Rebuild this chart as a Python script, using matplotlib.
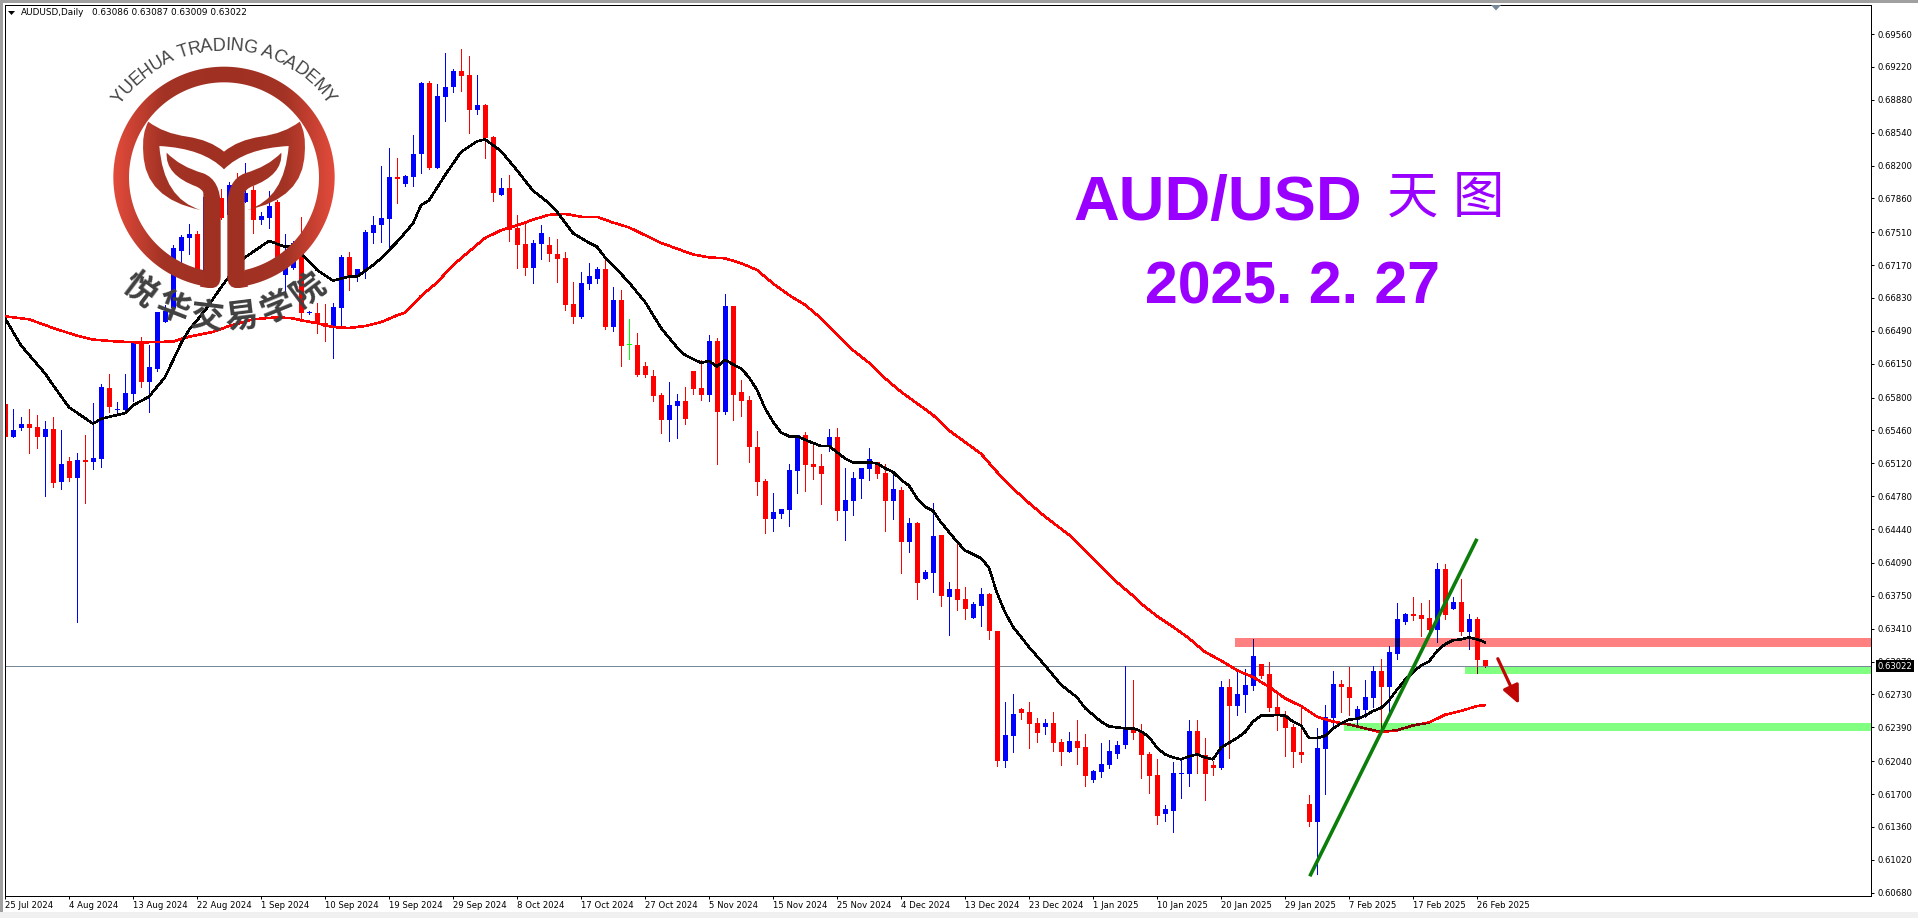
import numpy as np
import matplotlib
matplotlib.use("Agg")
import matplotlib.pyplot as plt
from matplotlib.path import Path
from matplotlib.patches import Rectangle, Polygon
from matplotlib.colors import LinearSegmentedColormap
from matplotlib.font_manager import FontProperties
from matplotlib.textpath import TextToPath

# daily candles, prices in 1/10000 (6573 = 0.6573)
opens = [
    6573, 6539, 6549, 6553, 6550, 6539, 6548, 6493, 6514, 6497,
    6515, 6513, 6517, 6590, 6567, 6567, 6584, 6637, 6596, 6610,
    6658, 6673, 6732, 6745, 6749, 6710, 6787, 6786, 6769, 6800,
    6782, 6795, 6764, 6766, 6782, 6707, 6714, 6725, 6667, 6668,
    6657, 6654, 6673, 6725, 6705, 6712, 6750, 6758, 6765, 6808,
    6801, 6808, 6832, 6905, 6817, 6891, 6901, 6918, 6914, 6877,
    6883, 6849, 6790, 6797, 6755, 6739, 6714, 6739, 6738, 6729,
    6724, 6677, 6663, 6697, 6703, 6713, 6653, 6681, 6634, 6634,
    6613, 6602, 6583, 6557, 6571, 6576, 6608, 6590, 6583, 6639,
    6565, 6675, 6586, 6578, 6529, 6494, 6454, 6460, 6464, 6504,
    6541, 6511, 6509, 6530, 6539, 6463, 6473, 6496, 6506, 6513,
    6502, 6473, 6484, 6431, 6450, 6392, 6399, 6438, 6374, 6382,
    6372, 6352, 6365, 6377, 6339, 6204, 6230, 6258, 6255, 6243,
    6239, 6243, 6224, 6213, 6225, 6219, 6185, 6193, 6200, 6211,
    6221, 6237, 6235, 6211, 6190, 6149, 6153, 6191, 6191, 6235,
    6210, 6200, 6197, 6281, 6261, 6272, 6282, 6304, 6294, 6260,
    6252, 6239, 6214, 6160, 6141, 6217, 6249, 6284, 6281, 6247,
    6257, 6269, 6297, 6281, 6315, 6348, 6356, 6355, 6352, 6340,
    6403, 6361, 6369, 6338, 6351, 6308.6,
]
highs = [
    6573, 6568, 6560, 6568, 6562, 6556, 6560, 6547, 6519, 6523,
    6541, 6574, 6594, 6604, 6575, 6604, 6637, 6643, 6634, 6669,
    6676, 6738, 6748, 6760, 6752, 6787, 6795, 6796, 6803, 6812,
    6823, 6799, 6772, 6794, 6784, 6749, 6742, 6767, 6670, 6678,
    6677, 6678, 6727, 6731, 6713, 6753, 6768, 6819, 6838, 6828,
    6810, 6852, 6906, 6907, 6904, 6936, 6920, 6941, 6933, 6914,
    6884, 6851, 6807, 6810, 6769, 6760, 6743, 6758, 6746, 6744,
    6731, 6700, 6710, 6719, 6715, 6724, 6694, 6691, 6661, 6647,
    6617, 6609, 6585, 6596, 6584, 6591, 6608, 6619, 6645, 6642,
    6687, 6675, 6598, 6582, 6545, 6496, 6481, 6465, 6511, 6541,
    6544, 6533, 6522, 6548, 6549, 6507, 6503, 6507, 6528, 6513,
    6511, 6504, 6488, 6455, 6451, 6402, 6471, 6438, 6389, 6430,
    6384, 6369, 6383, 6378, 6339, 6265, 6274, 6259, 6265, 6249,
    6248, 6255, 6227, 6234, 6247, 6232, 6195, 6223, 6226, 6225,
    6302, 6288, 6242, 6213, 6206, 6159, 6203, 6206, 6247, 6247,
    6228, 6204, 6287, 6289, 6297, 6299, 6330, 6305, 6307, 6275,
    6256, 6242, 6262, 6169, 6238, 6262, 6297, 6288, 6301, 6261,
    6288, 6302, 6310, 6323, 6368, 6357, 6374, 6368, 6371, 6409,
    6408, 6374, 6392, 6356, 6353, 6308.7,
]
lows = [
    6512, 6539, 6547, 6523, 6528, 6478, 6488, 6486, 6494, 6348,
    6471, 6506, 6508, 6565, 6563, 6566, 6577, 6591, 6565, 6608,
    6658, 6670, 6717, 6729, 6709, 6709, 6758, 6765, 6766, 6766,
    6782, 6750, 6760, 6755, 6720, 6688, 6713, 6659, 6666, 6647,
    6639, 6621, 6655, 6691, 6701, 6704, 6740, 6741, 6736, 6781,
    6799, 6799, 6812, 6816, 6817, 6866, 6896, 6897, 6854, 6873,
    6828, 6783, 6790, 6742, 6714, 6707, 6699, 6723, 6721, 6700,
    6671, 6657, 6662, 6692, 6699, 6651, 6649, 6613, 6620, 6602,
    6601, 6576, 6543, 6535, 6538, 6553, 6584, 6578, 6577, 6511,
    6563, 6557, 6561, 6513, 6479, 6440, 6442, 6456, 6447, 6481,
    6483, 6496, 6470, 6525, 6453, 6433, 6459, 6476, 6495, 6497,
    6442, 6454, 6399, 6420, 6372, 6392, 6379, 6364, 6335, 6360,
    6351, 6352, 6344, 6330, 6199, 6198, 6214, 6248, 6218, 6224,
    6232, 6215, 6200, 6213, 6201, 6178, 6182, 6188, 6197, 6207,
    6218, 6227, 6187, 6171, 6139, 6142, 6131, 6166, 6178, 6192,
    6164, 6190, 6196, 6207, 6252, 6255, 6278, 6290, 6256, 6236,
    6209, 6198, 6203, 6137, 6087, 6170, 6239, 6255, 6252, 6241,
    6250, 6260, 6235, 6254, 6310, 6346, 6350, 6333, 6332, 6327,
    6351, 6361, 6335, 6320, 6295, 6300.9,
]
closes = [
    6539, 6546, 6553, 6549, 6539, 6548, 6492, 6511, 6497, 6515,
    6513, 6518, 6591, 6570, 6568, 6585, 6637, 6596, 6612, 6669,
    6670, 6735, 6746, 6749, 6711, 6787, 6761, 6766, 6800, 6769,
    6792, 6764, 6768, 6778, 6722, 6720, 6740, 6667, 6669, 6656,
    6653, 6674, 6725, 6706, 6713, 6751, 6759, 6766, 6808, 6806,
    6809, 6832, 6905, 6817, 6892, 6901, 6918, 6913, 6877, 6883,
    6848, 6792, 6797, 6753, 6738, 6714, 6740, 6750, 6728, 6723,
    6676, 6663, 6698, 6706, 6713, 6653, 6681, 6633, 6634, 6603,
    6603, 6582, 6557, 6572, 6576, 6558, 6589, 6583, 6639, 6565,
    6675, 6583, 6577, 6529, 6493, 6454, 6462, 6465, 6505, 6541,
    6510, 6508, 6501, 6539, 6463, 6474, 6497, 6507, 6516, 6501,
    6473, 6486, 6431, 6450, 6388, 6400, 6437, 6375, 6382, 6371,
    6361, 6367, 6377, 6339, 6204, 6231, 6253, 6254, 6242, 6233,
    6243, 6223, 6214, 6225, 6218, 6189, 6194, 6201, 6215, 6221,
    6237, 6233, 6210, 6189, 6147, 6155, 6192, 6192, 6235, 6210,
    6191, 6197, 6281, 6261, 6273, 6283, 6313, 6292, 6259, 6251,
    6238, 6213, 6210, 6141, 6218, 6250, 6284, 6281, 6269, 6258,
    6270, 6297, 6281, 6317, 6351, 6356, 6354, 6351, 6340, 6403,
    6355, 6369, 6338, 6351, 6309, 6302.2,
]

# moving averages, read at these candle numbers
black_idx = [
    0, 2, 5, 6, 8, 11, 12, 15, 16, 18, 20, 22, 23, 25, 27, 28, 30, 33, 35, 36, 37, 39, 41,
    43, 44, 46, 47, 49, 51, 52, 53, 55, 57, 59, 60, 62, 64, 66, 68, 69, 71, 73, 74, 75, 77,
    78, 80, 82, 84, 85, 87, 88, 89, 90, 92, 93, 94, 95, 96, 97, 98, 99, 101, 102, 103, 105,
    106, 108, 109, 110, 111, 112, 113, 114, 115, 116, 117, 119, 120, 122, 123, 124, 125,
    126, 128, 130, 132, 134, 135, 137, 138, 140, 141, 142, 143, 144, 145, 146, 147, 148,
    149, 150, 151, 152, 154, 155, 156, 157, 158, 159, 160, 161, 162, 163, 164, 165, 166,
    167, 168, 169, 170, 171, 172, 173, 174, 175, 176, 177, 178, 179, 180, 181, 182, 183,
    184, 185,
]
black_val = [
    6662, 6634, 6605, 6593, 6570, 6553, 6558, 6564, 6572, 6581, 6601, 6636, 6650, 6670, 6694,
    6705, 6725, 6742, 6736, 6736, 6729, 6712, 6701, 6705, 6705, 6717, 6724, 6741, 6760, 6779,
    6784, 6810, 6834, 6845, 6847, 6835, 6815, 6794, 6781, 6772, 6750, 6740, 6736, 6725, 6708,
    6699, 6679, 6652, 6632, 6624, 6616, 6618, 6612, 6619, 6610, 6601, 6588, 6569, 6555, 6544,
    6540, 6540, 6533, 6530, 6530, 6517, 6513, 6513, 6512, 6507, 6503, 6495, 6489, 6476, 6467,
    6463, 6451, 6431, 6422, 6414, 6404, 6378, 6358, 6343, 6322, 6303, 6283, 6270, 6259, 6245,
    6240, 6238, 6238, 6235, 6229, 6218, 6211, 6208, 6206, 6209, 6211, 6208, 6206, 6218, 6228,
    6234, 6245, 6251, 6251, 6252, 6251, 6245, 6241, 6228, 6228, 6230, 6238, 6243, 6247, 6248,
    6251, 6256, 6259, 6267, 6278, 6288, 6296, 6303, 6307, 6318, 6325, 6329, 6330, 6332, 6330,
    6327,
]
red_idx = [
    0, 3, 6, 9, 11, 14, 17, 21, 23, 26, 28, 31, 34, 36, 37, 39, 41, 43, 45, 47, 49, 50, 52, 54,
    56, 58, 60, 62, 64, 66, 68, 70, 72, 74, 76, 78, 80, 82, 84, 86, 88, 90, 92, 94, 96, 98,
    100, 102, 104, 106, 108, 110, 112, 114, 116, 118, 120, 122, 124, 126, 128, 130, 133, 136,
    139, 141, 142, 144, 146, 148, 150, 152, 154, 156, 158, 160, 162, 164, 166, 168, 170, 172,
    174, 176, 178, 180, 182, 184, 185,
]
red_val = [
    6664, 6661, 6652, 6644, 6640, 6638, 6637, 6638, 6643, 6648, 6654, 6661, 6663, 6662, 6660,
    6657, 6653, 6652, 6654, 6658, 6665, 6668, 6685, 6699, 6717, 6731, 6745, 6753, 6758, 6764,
    6769, 6770, 6767, 6767, 6761, 6756, 6748, 6740, 6734, 6728, 6725, 6724, 6719, 6712, 6698,
    6686, 6676, 6662, 6645, 6629, 6616, 6600, 6586, 6574, 6562, 6546, 6534, 6522, 6503, 6486,
    6471, 6457, 6438, 6414, 6389, 6375, 6367, 6354, 6343, 6331, 6317, 6308, 6298, 6291, 6281,
    6269, 6261, 6250, 6245, 6242, 6238, 6234, 6236, 6241, 6244, 6252, 6256, 6261, 6262,
]

price_ticks = [
    0.69560, 0.69220, 0.68880, 0.68540, 0.68200, 0.67860, 0.67510, 0.67170, 0.66830,
    0.66490, 0.66150, 0.65800, 0.65460, 0.65120, 0.64780, 0.64440, 0.64090, 0.63750,
    0.63410, 0.63070, 0.62730, 0.62390, 0.62040, 0.61700, 0.61360, 0.61020, 0.60680,
]
date_labels = [
    "25 Jul 2024", "4 Aug 2024", "13 Aug 2024", "22 Aug 2024", "1 Sep 2024", "10 Sep 2024",
    "19 Sep 2024", "29 Sep 2024", "8 Oct 2024", "17 Oct 2024", "27 Oct 2024", "5 Nov 2024",
    "15 Nov 2024", "25 Nov 2024", "4 Dec 2024", "13 Dec 2024", "23 Dec 2024", "1 Jan 2025",
    "10 Jan 2025", "20 Jan 2025", "29 Jan 2025", "7 Feb 2025", "17 Feb 2025", "26 Feb 2025",
]
last_price = 0.63022

# drawn levels: first candle, top price, bottom price
resistance_zone = (153.75, 0.6331, 0.6322)
support_zone_1 = (182.5, 0.6301, 0.6294)
support_zone_2 = (167.4, 0.6243, 0.6235)
trend_x = [163.1, 184.0]
trend_y = [0.6085, 0.6434]
arrow_start = (186.6, 0.6310)
arrow_end = (189.25, 0.6263)

W, H = 1918, 918
o = np.array(opens) / 10000
h = np.array(highs) / 10000
l = np.array(lows) / 10000
c = np.array(closes) / 10000
idx = np.arange(len(o))

PX = 0.72  # one pixel at dpi 100, in points
fig = plt.figure(figsize=(W / 100, H / 100), dpi=100, facecolor="white")
left, right, top, bottom = 4.5, 1870.5, 4.5, 895.5
ax = fig.add_axes([left / W, 1 - bottom / H, (right - left) / W, (bottom - top) / H])
ax.set_xlim((left - 5) / 8, (right - 5) / 8)
ax.set_ylim(0.6956 - (bottom - 34) * 0.00010341, 0.6956 - (top - 34) * 0.00010341)
xmax = ax.get_xlim()[1]


def draw_candles(up_col, down_col, flat_col, z, clip=None):
    arts = []
    for mask, col in [(c > o, up_col), (c < o, down_col), (c == o, flat_col)]:
        arts.append(ax.vlines(idx[mask], l[mask], h[mask], color=col, lw=PX, zorder=z,
                              antialiased=False))
        body = np.maximum(np.abs(c - o)[mask], 0.0001)
        bars = ax.bar(idx[mask], body, bottom=np.minimum(o, c)[mask], width=5 / 8, color=col,
                      linewidth=0, zorder=z, antialiased=False)
        arts.extend(bars)
    if clip is not None:
        for a in arts:
            a.set_clip_path(clip)


# zones sit under the candles, colours inside them get redrawn darker like the original
zones = []
for (start, z_top, z_bot), col in [(resistance_zone, "#ff8080"), (support_zone_1, "#80ff80"),
                                   (support_zone_2, "#80ff80")]:
    r = Rectangle((start, z_bot), xmax - start, z_top - z_bot, fc=col, ec="none", zorder=1)
    ax.add_patch(r)
    zones.append(r)

ax.axhline(last_price, color="#778899", lw=PX, zorder=1.5, antialiased=False)
draw_candles("#0000ff", "#ff0000", "#00ff00", 2)
draw_candles("#000080", "#ff0000", "#00ff00", 2.1, clip=zones[0])
line = ax.axhline(last_price, color="#3c884d", lw=PX, zorder=2.2, antialiased=False)
line.set_clip_path(zones[1])
for zone in zones[1:]:
    draw_candles("#000080", "#800000", "#00ff00", 2.1, clip=zone)

ax.plot(red_idx, np.array(red_val) / 10000, color="#ff0000", lw=1.1, zorder=3, antialiased=False)
dark = ax.plot(red_idx, np.array(red_val) / 10000, color="#800000", lw=1.1, zorder=3.1,
               antialiased=False)[0]
dark.set_clip_path(zones[2])
ax.plot(black_idx, np.array(black_val) / 10000, color="black", lw=1.1, zorder=3.2, antialiased=False)

ax.plot(trend_x, trend_y, color="#0a7d0a", lw=2.6, zorder=4, solid_capstyle="butt")
ax.annotate("", xy=arrow_end, xytext=arrow_start,
            arrowprops=dict(arrowstyle="-|>,head_length=1.1,head_width=0.5", lw=2.3, color="#c00505",
                            shrinkA=0, shrinkB=0, mutation_scale=10), zorder=5)

ax.yaxis.tick_right()
ax.set_yticks(price_ticks)
ax.set_yticklabels([f"{p:.5f}" for p in price_ticks], fontsize=6.1)
ax.set_xticks(np.arange(len(date_labels)) * 8)
ax.set_xticklabels(date_labels, fontsize=6.1, ha="left")
ax.tick_params(axis="both", length=2.2, width=PX, color="black")
ax.tick_params(axis="y", pad=2.6)
ax.tick_params(axis="x", pad=1.8)
for s in ax.spines.values():
    s.set_linewidth(PX)
    s.set_color("black")

ax.annotate(f"{last_price:.5f}", xy=(1, last_price), xycoords=("axes fraction", "data"),
            xytext=(4.8, 0), textcoords="offset points", va="center", ha="left", fontsize=6.1,
            color="white", bbox=dict(boxstyle="square,pad=0.18", fc="black", ec="black", lw=0),
            annotation_clip=False, zorder=6)

# everything else is placed in pixels of the screenshot
ov = fig.add_axes([0, 0, 1, 1], facecolor="none")
ov.set_xlim(0, W)
ov.set_ylim(H, 0)
ov.axis("off")

ov.add_patch(Rectangle((0, 0), W, 2.5, fc="#a0a0a0", ec="none"))
ov.add_patch(Rectangle((0, 0), 2.5, H, fc="#a0a0a0", ec="none"))
ov.add_patch(Rectangle((0, 912), W, 6, fc="#f0f0f0", ec="none"))
ov.add_patch(Polygon([(1491, 5), (1501, 5), (1496, 10.5)], fc="#778899", ec="none"))
ov.add_patch(Polygon([(8, 11), (15, 11), (11.5, 15)], fc="black", ec="none"))
ov.text(20.5, 12.5, "AUDUSD,Daily", fontsize=6.4, va="center", ha="left")
ov.text(92, 12.5, "0.63086 0.63087 0.63009 0.63022", fontsize=6.4, va="center", ha="left")

ov.text(1073, 220, "AUD/USD", family="Liberation Sans", weight="bold", fontsize=45.6,
        color="#9900ff", va="baseline", ha="left")
for x, ch in [(1413, "天"), (1478, "图")]:
    ov.text(x, 198, ch, family="Noto Sans CJK SC", fontsize=37, color="#9900ff",
            va="center", ha="center")
ov.text(1145, 303, "2025. 2. 27", family="Liberation Sans", weight="bold", fontsize=42.5,
        color="#9900ff", va="baseline", ha="left")

# logo, outline measured in a 3x crop starting at (100, 20)
LOGO_X = 372


def to_px(pt, mirror=False):
    x = 2 * LOGO_X - pt[0] if mirror else pt[0]
    return (100 + x / 3, 20 + pt[1] / 3)


def shape(start, segs, mirror=False):
    verts = [to_px(start, mirror)]
    codes = [Path.MOVETO]
    for s in segs:
        if len(s) == 2 and np.isscalar(s[0]):
            verts.append(to_px(s, mirror))
            codes.append(Path.LINETO)
        else:
            verts += [to_px(s[0], mirror), to_px(s[1], mirror)]
            codes += [Path.CURVE3, Path.CURVE3]
    verts.append(verts[0])
    codes.append(Path.CLOSEPOLY)
    return Path(verts, codes)


band = ((145, 305), [((190, 340), (262, 350)), ((330, 360), (372, 395)), (372, 448),
                     ((310, 385), (178, 378)), ((190, 536), (302, 570)),
                     ((134, 535), (130, 400)), ((125, 340), (145, 305))])
leaf = ((200, 398), [((240, 440), (310, 460)), ((362, 480), (362, 560)), (362, 770),
                     ((362, 805), (330, 805)), (300, 800), (310, 755), (310, 520),
                     ((310, 510), (290, 500)), ((195, 465), (200, 398))])

phi_out = np.radians(np.linspace(7.3, 352.7, 200))
phi_in = np.radians(np.linspace(347.4, 12.6, 200))
ring = np.vstack([
    np.column_stack([LOGO_X + 332 * np.sin(phi_out), 472 + 332 * np.cos(phi_out)]),
    np.column_stack([LOGO_X + 285 * np.sin(phi_in), 472 + 285 * np.cos(phi_in)]),
])
ring_path = Path([to_px(p) for p in ring] + [to_px(ring[0])],
                 [Path.MOVETO] + [Path.LINETO] * (len(ring) - 1) + [Path.CLOSEPOLY])

cx, cy, R = 224, 177.3, 110.7
cmap = LinearSegmentedColormap.from_list("logo", [(0, "#9f3022"), (0.55, "#a33325"), (1, "#e34b3b")])
xs = np.linspace(-1, 1, 256)
grad = np.abs(xs)[None, :]
paths = [ring_path, shape(*band), shape(*band, mirror=True), shape(*leaf), shape(*leaf, mirror=True)]
for p in paths:
    im = ov.imshow(grad, cmap=cmap, vmin=0, vmax=1, extent=(cx - R, cx + R, cy + R, cy - R),
                   aspect="auto", zorder=7, interpolation="bilinear")
    im.set_clip_path(p, ov.transData)
ov.set_xlim(0, W)
ov.set_ylim(H, 0)

# text round the logo
logo_text = "YUEHUA TRADING ACADEMY"
prop = FontProperties(family="Liberation Sans", size=13)
ttp = TextToPath()
widths = np.array([ttp.get_text_width_height_descent(ch, prop, False)[0] for ch in logo_text])
pos = np.cumsum(widths) - widths / 2
theta = (pos / widths.sum() - 0.5) * 2 * np.radians(55)
for ch, t in zip(logo_text, theta):
    ov.text(cx + 127 * np.sin(t), cy - 127 * np.cos(t), ch, family="Liberation Sans", fontsize=13,
            color="#444444", rotation=-np.degrees(t), rotation_mode="anchor", ha="center",
            va="baseline", zorder=8)

cn_chars = ["悦", "华", "交", "易", "学", "院"]
cn_angles = [-37, -21.5, -7, 7, 22, 37]
for ch, a in zip(cn_chars, cn_angles):
    t = np.radians(a)
    ov.text(cx + 141 * np.sin(t), cy + 141 * np.cos(t), ch, family="Noto Sans CJK SC", weight="bold",
            fontsize=24, color="#404040", rotation=a, rotation_mode="anchor", ha="center",
            va="center", zorder=8)

fig.savefig("out.png", dpi=100)
